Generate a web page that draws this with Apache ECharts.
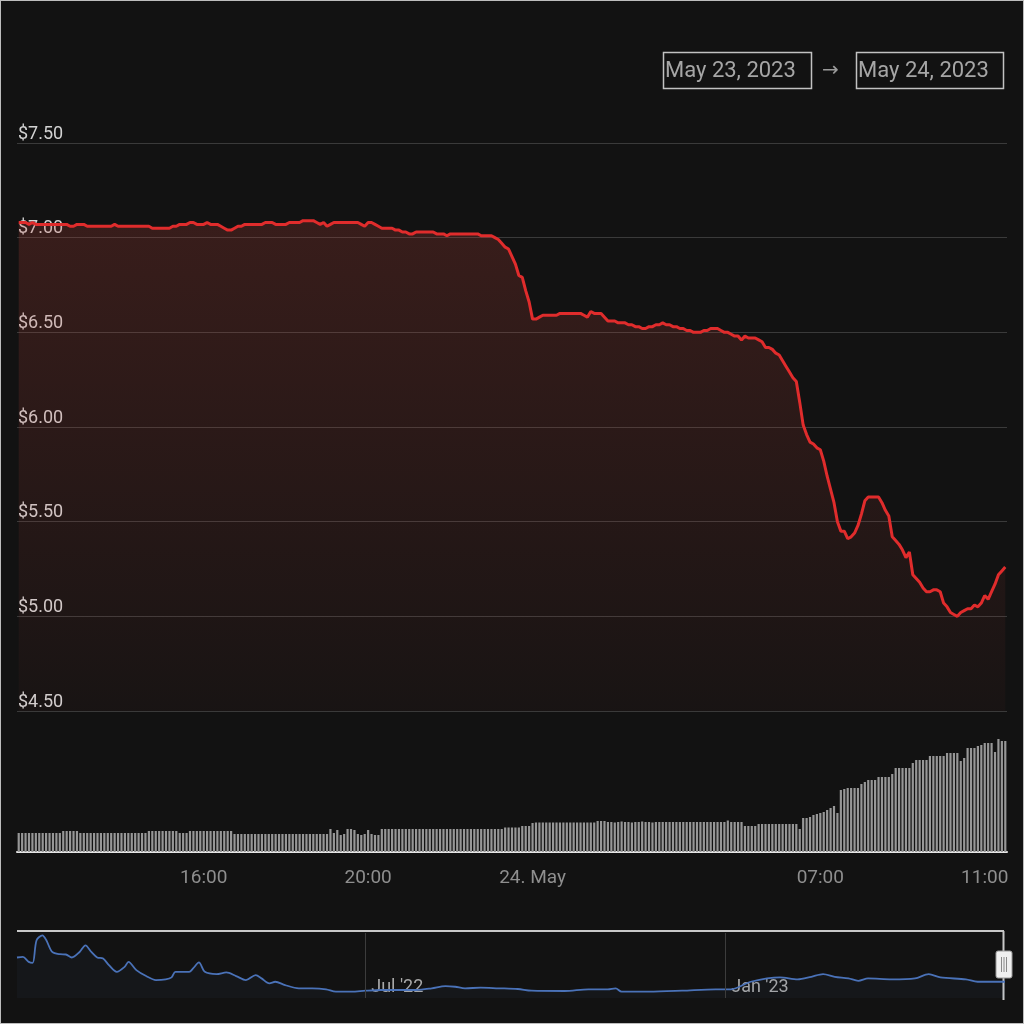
<!DOCTYPE html>
<html lang="en">
<head>
    <meta charset="UTF-8">
    <title>Price chart</title>
    <script src="https://cdn.jsdelivr.net/npm/echarts@6.0.0/dist/echarts.min.js"></script>
    <style>
        body { margin: 0; background: #121212; }
        #main { width: 1024px; height: 1024px; position: absolute; left: 0; top: 0; }
        #frame { width: 1024px; height: 1024px; position: absolute; left: 0; top: 0;
                 box-sizing: border-box; border: 1px solid #bdbdbd; pointer-events: none; }
    </style>
</head>
<body>
<div id="main"></div>
<div id="frame"></div>
<script type="text/javascript">
    // 5 minute bars, 23 May 11:30 -> 24 May 11:30
    var startTime = '2023-05-23T11:30:00';

    var priceData = [
        7.08,7.08,7.08,7.07,7.08,7.07,7.07,7.07,7.07,7.07,
        7.07,7.07,7.07,7.07,7.07,7.06,7.06,7.07,7.07,7.07,
        7.06,7.06,7.06,7.06,7.06,7.06,7.06,7.06,7.07,7.06,
        7.06,7.06,7.06,7.06,7.06,7.06,7.06,7.06,7.06,7.05,
        7.05,7.05,7.05,7.05,7.05,7.06,7.06,7.07,7.07,7.07,
        7.08,7.08,7.07,7.07,7.07,7.08,7.07,7.07,7.07,7.06,
        7.05,7.04,7.04,7.05,7.06,7.06,7.07,7.07,7.07,7.07,
        7.07,7.07,7.08,7.08,7.08,7.07,7.07,7.07,7.07,7.08,
        7.08,7.08,7.08,7.09,7.09,7.09,7.09,7.08,7.07,7.08,
        7.06,7.07,7.08,7.08,7.08,7.08,7.08,7.08,7.08,7.08,
        7.07,7.06,7.08,7.08,7.07,7.06,7.05,7.05,7.05,7.05,
        7.04,7.04,7.03,7.03,7.02,7.02,7.03,7.03,7.03,7.03,
        7.03,7.03,7.02,7.02,7.02,7.01,7.02,7.02,7.02,7.02,
        7.02,7.02,7.02,7.02,7.02,7.01,7.01,7.01,7.01,7.00,
        6.99,6.97,6.95,6.94,6.90,6.86,6.80,6.79,6.72,6.66,
        6.57,6.57,6.58,6.59,6.59,6.59,6.59,6.59,6.60,6.60,
        6.60,6.60,6.60,6.60,6.60,6.59,6.58,6.61,6.60,6.60,
        6.60,6.58,6.56,6.56,6.56,6.55,6.55,6.55,6.54,6.54,
        6.53,6.53,6.52,6.52,6.53,6.53,6.54,6.54,6.55,6.54,
        6.54,6.53,6.53,6.52,6.52,6.51,6.51,6.50,6.50,6.50,
        6.51,6.51,6.52,6.52,6.52,6.51,6.50,6.50,6.49,6.48,
        6.48,6.46,6.48,6.47,6.47,6.47,6.46,6.45,6.42,6.42,
        6.41,6.39,6.38,6.35,6.32,6.29,6.26,6.24,6.13,6.01,
        5.96,5.92,5.91,5.89,5.88,5.82,5.74,5.67,5.60,5.50,
        5.45,5.45,5.41,5.42,5.44,5.48,5.54,5.61,5.63,5.63,
        5.63,5.63,5.60,5.56,5.53,5.42,5.40,5.38,5.35,5.31,
        5.34,5.22,5.20,5.18,5.15,5.13,5.13,5.14,5.14,5.13,
        5.07,5.05,5.02,5.01,5.00,5.02,5.03,5.04,5.04,5.06,
        5.05,5.07,5.11,5.09,5.13,5.17,5.22,5.24,5.26
    ];

    // volume, millions
    var volumeData = [
        1.9,1.9,1.9,1.9,1.9,1.9,1.9,1.9,1.9,1.9,
        1.9,1.9,1.9,2.1,2.1,2.1,2.1,2.1,1.9,1.9,
        1.9,1.9,1.9,1.9,1.9,1.9,1.9,1.9,1.9,1.9,
        1.9,1.9,1.9,1.9,1.9,1.9,1.9,1.9,2.1,2.1,
        2.1,2.1,2.1,2.1,2.1,2.1,2.1,1.9,1.9,1.9,
        2.1,2.1,2.1,2.1,2.1,2.1,2.1,2.1,2.1,2.1,
        2.1,2.1,2.1,1.8,1.8,1.8,1.8,1.8,1.8,1.8,
        1.8,1.8,1.8,1.8,1.8,1.8,1.8,1.8,1.8,1.8,
        1.8,1.8,1.8,1.8,1.8,1.8,1.8,1.8,1.8,1.8,
        1.8,2.3,1.9,2.2,1.7,1.8,2.3,2.3,2.2,1.8,
        1.7,1.8,2.2,1.8,1.7,1.7,2.3,2.3,2.3,2.3,
        2.3,2.3,2.3,2.3,2.3,2.3,2.3,2.3,2.3,2.3,
        2.3,2.3,2.3,2.3,2.3,2.3,2.3,2.3,2.3,2.3,
        2.3,2.3,2.3,2.3,2.3,2.3,2.3,2.3,2.3,2.3,
        2.3,2.3,2.45,2.45,2.45,2.45,2.45,2.6,2.6,2.6,
        2.9,2.95,2.95,2.95,2.95,2.95,2.95,2.95,2.95,2.95,
        2.95,2.95,2.95,2.95,2.95,2.95,2.95,2.95,2.95,3.1,
        3.1,3.1,3.0,3.0,2.95,3.0,3.05,3.0,3.0,2.95,
        3.0,3.0,3.05,3.0,3.0,2.95,3.0,3.0,3.0,3.0,
        3.0,3.0,3.0,3.0,3.0,3.0,3.0,3.0,3.0,3.0,
        3.0,3.0,3.0,3.0,3.0,3.0,3.0,3.15,3.0,3.0,
        3.0,3.0,2.6,2.6,2.6,2.6,2.8,2.8,2.8,2.8,
        2.8,2.8,2.8,2.8,2.8,2.8,2.8,2.8,2.3,3.4,
        3.4,3.5,3.7,3.8,3.9,4.0,4.2,4.4,4.6,3.9,
        6.2,6.3,6.4,6.4,6.4,6.4,6.8,7.0,7.2,7.2,
        7.2,7.5,7.5,7.5,7.5,7.8,8.4,8.4,8.4,8.4,
        8.4,8.9,9.2,9.2,9.2,9.2,9.6,9.6,9.6,9.6,
        9.6,9.9,9.9,9.9,9.9,9.1,9.4,10.4,10.4,10.4,
        10.6,10.7,10.9,10.9,10.9,10.0,11.3,11.1,11.1
    ];

    // bottom axis labels (index into the 5 minute bars)
    var tickIndex = [54, 102, 150, 234, 282];
    var tickLabels = ['16:00', '20:00', '24. May', '07:00', '11:00'];

    // navigator: long history
    var navDates = [
        '2022-01-04','2022-01-07','2022-01-10','2022-01-12','2022-01-14','2022-01-17','2022-01-19',
        '2022-01-22','2022-01-26','2022-01-29','2022-02-01','2022-02-05','2022-02-08','2022-02-11',
        '2022-02-14','2022-02-17','2022-02-20','2022-02-24','2022-02-28','2022-03-02','2022-03-06',
        '2022-03-11','2022-03-16','2022-03-21','2022-03-24','2022-03-26','2022-04-02','2022-04-04',
        '2022-04-07','2022-04-10','2022-04-16','2022-04-21','2022-04-26','2022-05-01','2022-05-06',
        '2022-05-09','2022-05-13','2022-05-16','2022-05-21','2022-05-28','2022-06-04','2022-06-11',
        '2022-06-16','2022-06-24','2022-07-01','2022-07-09','2022-07-18','2022-07-27','2022-08-04',
        '2022-08-11','2022-08-16','2022-08-21','2022-08-29','2022-09-07','2022-09-17','2022-09-24',
        '2022-10-11','2022-10-23','2022-11-02','2022-11-06','2022-11-09','2022-11-23','2022-12-10',
        '2022-12-27','2023-01-04','2023-01-14','2023-01-29','2023-02-07','2023-02-14','2023-02-20',
        '2023-02-26','2023-03-05','2023-03-10','2023-03-15','2023-03-27','2023-04-08','2023-04-15',
        '2023-04-21','2023-05-04','2023-05-10','2023-05-21','2023-05-24'
    ];
    var navValues = [
        11.48,11.59,10.67,10.49,14.65,15.57,14.65,
        12.50,12.08,12.03,11.48,12.50,13.73,12.50,
        11.48,11.29,10.06,8.83,9.75,10.67,9.15,
        8.05,7.31,7.44,7.81,8.83,8.83,9.46,
        10.56,8.83,8.41,8.72,8.05,7.31,8.23,
        7.62,6.71,7.00,6.39,5.79,5.79,5.61,
        5.17,5.17,5.35,5.48,5.48,5.48,5.79,
        6.21,6.08,5.79,5.90,5.79,5.66,5.35,
        5.29,5.61,5.61,5.79,5.17,5.17,5.35,
        5.61,5.61,7.00,7.81,7.44,7.92,8.41,
        7.92,7.62,7.18,7.62,7.44,7.62,8.41,
        7.81,7.44,7.00,7.00,7.00
    ];
    var navMarks = ['2022-07-01', '2023-01-01'];
    var navRange = ['2022-01-04', '2023-05-24'];

    // category list for the 5 minute bars
    var times = [];
    var t0 = new Date(startTime).getTime();
    for (var i = 0; i < priceData.length; i++) {
        var d = new Date(t0 + i * 300000);
        times.push(('0' + d.getHours()).slice(-2) + ':' + ('0' + d.getMinutes()).slice(-2));
    }

    function showTick(idx) { return tickIndex.indexOf(idx) >= 0; }
    function ts(s) { return new Date(s + 'T00:00:00').getTime(); }

    var navData = navDates.map(function (d, k) { return [ts(d), navValues[k]]; });
    var monthNames = ['Jan', 'Feb', 'Mar', 'Apr', 'May', 'Jun', 'Jul', 'Aug', 'Sep', 'Oct', 'Nov', 'Dec'];

    var myChart = echarts.init(document.getElementById('main'));

    var option = {
        backgroundColor: '#121212',
        animation: false,
        textStyle: { fontFamily: 'Roboto' },
        grid: [
            { left: 17, width: 990, top: 143, height: 568 },
            { left: 17, width: 990, top: 727, height: 125 },
            { left: 17, width: 988, top: 933, height: 65 }
        ],
        xAxis: [
            {
                type: 'category', gridIndex: 0, data: times, boundaryGap: true,
                axisLine: { show: false }, axisTick: { show: false }, axisLabel: { show: false }
            },
            {
                type: 'category', gridIndex: 1, data: times, boundaryGap: true,
                axisLine: { lineStyle: { color: '#e6e6e6', width: 2 } },
                axisTick: {
                    alignWithLabel: true, length: 12,
                    interval: showTick,
                    lineStyle: { color: '#e6e6e6', width: 2 }
                },
                axisLabel: {
                    interval: showTick,
                    formatter: function (val, idx) {
                        var k = tickIndex.indexOf(idx);
                        return k >= 0 ? tickLabels[k] : '';
                    },
                    color: '#8e8e8e', fontSize: 19, margin: 17
                }
            },
            {
                type: 'value', gridIndex: 2,
                min: ts(navRange[0]), max: ts(navRange[1]),
                axisLine: { show: false }, axisTick: { show: false },
                splitLine: { show: false },
                axisLabel: {
                    inside: true,
                    customValues: navMarks.map(ts),
                    formatter: function (val) {
                        var d = new Date(val);
                        return monthNames[d.getMonth()] + " '" + String(d.getFullYear()).slice(2);
                    },
                    align: 'left', padding: [0, 0, 0, 6],
                    color: '#a8a8a8', fontSize: 18, margin: 2
                }
            }
        ],
        yAxis: [
            {
                type: 'value', gridIndex: 0, min: 4.5, max: 7.5, interval: 0.5,
                axisLine: { show: false }, axisTick: { show: false },
                splitLine: { lineStyle: { color: '#3a3a3a', width: 1 } },
                axisLabel: {
                    inside: true, margin: 1, align: 'left', verticalAlign: 'bottom',
                    padding: [0, 0, 0, 0],
                    formatter: function (v) { return '$' + v.toFixed(2); },
                    color: '#d2d2d2', fontSize: 18
                }
            },
            {
                type: 'value', gridIndex: 1, min: 0, max: 12.5,
                axisLine: { show: false }, axisTick: { show: false },
                splitLine: { show: false }, axisLabel: { show: false }
            },
            {
                type: 'value', gridIndex: 2, min: 4, max: 16,
                axisLine: { show: false }, axisTick: { show: false },
                splitLine: { show: false }, axisLabel: { show: false }
            }
        ],
        series: [
            {
                name: 'Price', type: 'line', xAxisIndex: 0, yAxisIndex: 0,
                data: priceData, showSymbol: false, symbol: 'none',
                lineStyle: { color: '#e02c2c', width: 3 },
                areaStyle: {
                    origin: 'start',
                    color: new echarts.graphic.LinearGradient(0, 0, 0, 1, [
                        { offset: 0, color: 'rgba(200,70,60,0.3)' },
                        { offset: 1, color: 'rgba(200,70,60,0.05)' }
                    ])
                },
                z: 3
            },
            {
                name: 'Volume', type: 'bar', xAxisIndex: 1, yAxisIndex: 1,
                data: volumeData, barCategoryGap: '36%',
                itemStyle: { color: '#979797' }
            },
            {
                name: 'History', type: 'line', xAxisIndex: 2, yAxisIndex: 2,
                data: navData, showSymbol: false, symbol: 'none', smooth: 0.3,
                lineStyle: { color: '#4a72b8', width: 1.8 },
                areaStyle: { origin: 'start', color: 'rgba(74,114,184,0.07)' },
                markLine: {
                    silent: true, symbol: 'none',
                    label: { show: false },
                    lineStyle: { color: '#3c3c3c', width: 1, type: 'solid' },
                    data: navMarks.map(function (d) { return { xAxis: ts(d) }; })
                }
            }
        ],
        graphic: [
            // date range boxes
            { type: 'rect', shape: { x: 663.5, y: 52.5, width: 148, height: 36 },
              style: { fill: 'none', stroke: '#c2c2c2', lineWidth: 1.5 } },
            { type: 'text', x: 665, y: 71,
              style: { text: 'May 23, 2023', fill: '#a6a6a6', fontSize: 22, fontFamily: 'Roboto', verticalAlign: 'middle' } },
            { type: 'text', x: 822, y: 71,
              style: { text: '\u2192', fill: '#9a9a9a', fontSize: 20, fontFamily: 'DejaVu Sans', verticalAlign: 'middle' } },
            { type: 'rect', shape: { x: 856.5, y: 52.5, width: 147, height: 36 },
              style: { fill: 'none', stroke: '#c2c2c2', lineWidth: 1.5 } },
            { type: 'text', x: 858, y: 71,
              style: { text: 'May 24, 2023', fill: '#a6a6a6', fontSize: 22, fontFamily: 'Roboto', verticalAlign: 'middle' } },
            // navigator frame + handle
            { type: 'line', shape: { x1: 17, y1: 931, x2: 1004, y2: 931 },
              style: { stroke: '#c8c8c8', lineWidth: 2 } },
            { type: 'line', shape: { x1: 1003.5, y1: 931, x2: 1003.5, y2: 1000 },
              style: { stroke: '#c8c8c8', lineWidth: 2 } },
            { type: 'rect', shape: { x: 996, y: 951, width: 16, height: 27, r: 2 },
              style: { fill: '#f0f0f0', stroke: '#9a9a9a', lineWidth: 1 } },
            { type: 'line', shape: { x1: 1001.5, y1: 957, x2: 1001.5, y2: 972 }, style: { stroke: '#8a8a8a', lineWidth: 1 } },
            { type: 'line', shape: { x1: 1004, y1: 957, x2: 1004, y2: 972 }, style: { stroke: '#8a8a8a', lineWidth: 1 } },
            { type: 'line', shape: { x1: 1006.5, y1: 957, x2: 1006.5, y2: 972 }, style: { stroke: '#8a8a8a', lineWidth: 1 } }
        ]
    };

    myChart.setOption(option);
</script>
</body>
</html>
